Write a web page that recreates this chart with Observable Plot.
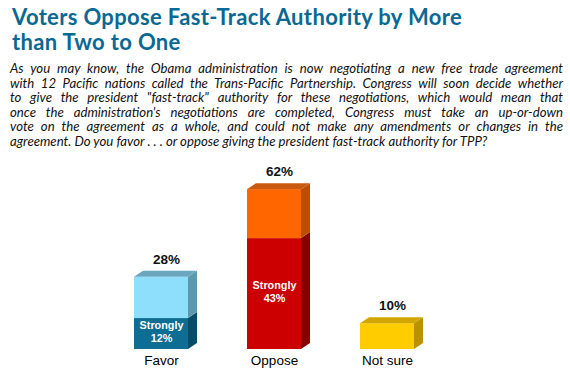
<!DOCTYPE html>
<html>
<head>
<meta charset="utf-8">
<script src="https://cdn.jsdelivr.net/npm/d3@7"></script>
<script src="https://cdn.jsdelivr.net/npm/@observablehq/plot@0.6"></script>
<style>
  html, body { margin: 0; padding: 0; background: #fff; }
  body { width: 570px; height: 374px; position: relative; overflow: hidden; }
  #title { position: absolute; left: 12px; top: 4px; width: 556px; font-family: Lato, "Open Sans", sans-serif; font-weight: 700; font-size: 22px; line-height: 25px; letter-spacing: 0.35px; color: #0a6892; }
  #title div { height: 25px; white-space: nowrap; }
  #sub { position: absolute; left: 10px; top: 61px; width: 553px; font-family: Lato, "Open Sans", sans-serif; font-style: italic; font-size: 13.2px; line-height: 14.6px; color: #111; }
  #sub div { text-align: justify; text-align-last: justify; white-space: nowrap; }
  #sub div.last { text-align-last: left; }
  #chart { position: absolute; left: 0; top: 150px; }
</style>
</head>
<body>
<div id="title"><div>Voters Oppose Fast-Track Authority by More</div><div>than Two to One</div></div>
<div id="sub"></div>
<div id="chart"></div>
<script>
const questionLines = [
  "As you may know, the Obama administration is now negotiating a new free trade agreement",
  "with 12 Pacific nations called the Trans-Pacific Partnership.  Congress will soon decide whether",
  "to give the president \"fast-track\" authority for these negotiations, which would mean that",
  "once the administration's negotiations are completed, Congress must take an up-or-down",
  "vote on the agreement as a whole, and could not make any amendments or changes in the",
  "agreement.  Do you favor . . . or oppose giving the president fast-track authority for TPP?"
];
const categories = ["Favor", "Oppose", "Not sure"];
const totals = [28, 62, 10];
const strongly = [12, 43, 0];

// colours: front, side, top per segment
const palette = {
  "Favor-strong": {front: "#0d6d92", side: "#0a4c68", top: "#0a4c68"},
  "Favor-soft":   {front: "#8edffb", side: "#5f98ae", top: "#6aa6bf"},
  "Oppose-strong":{front: "#cc0000", side: "#870000", top: "#870000"},
  "Oppose-soft":  {front: "#ff6600", side: "#bf4c00", top: "#c95a10"},
  "Not sure-only":{front: "#ffcc00", side: "#b89300", top: "#d1a600"}
};

const sub = document.getElementById("sub");
questionLines.forEach((t, i) => {
  const d = document.createElement("div");
  d.textContent = t;
  if (i === questionLines.length - 1) d.className = "last";
  sub.appendChild(d);
});

const segs = [];
categories.forEach((c, i) => {
  if (strongly[i] > 0) {
    segs.push({cat: c, y1: 0, y2: strongly[i], part: "strong"});
    segs.push({cat: c, y1: strongly[i], y2: totals[i], part: "soft"});
  } else {
    segs.push({cat: c, y1: 0, y2: totals[i], part: "only"});
  }
});
const tops = categories.map((c, i) => ({cat: c, total: totals[i], key: segs.filter(s => s.cat === c).slice(-1)[0]}));
const strongLabels = categories.map((c, i) => ({cat: c, v: strongly[i]})).filter(d => d.v > 0);

const DX = 9, DY = 6;
const depthMark = (index, scales, values, dimensions, context) => {
  const ns = "http://www.w3.org/2000/svg";
  const g = document.createElementNS(ns, "g");
  const x = scales.x, y = scales.y;
  const bw = typeof x.bandwidth === "function" ? x.bandwidth() : 54;
  const poly = (pts, fill) => {
    const p = document.createElementNS(ns, "polygon");
    p.setAttribute("points", pts.map(q => q.join(",")).join(" "));
    p.setAttribute("fill", fill);
    g.appendChild(p);
  };
  for (const s of segs) {
    const col = palette[s.cat + "-" + s.part];
    const x1 = x(s.cat) + bw;
    const ya = y(s.y1), yb = y(s.y2);
    poly([[x1, ya], [x1 + DX, ya - DY], [x1 + DX, yb - DY], [x1, yb]], col.side);
  }
  for (const t of tops) {
    const col = palette[t.cat + "-" + t.key.part];
    const x0 = x(t.cat), x1 = x0 + bw, yt = y(t.total);
    poly([[x0, yt], [x0 + DX, yt - DY], [x1 + DX, yt - DY], [x1, yt]], col.top);
  }
  return g;
};

const chart = Plot.plot({
  width: 570,
  height: 224,
  marginLeft: 73.5,
  marginRight: 96.5,
  marginTop: 18.5,
  marginBottom: 25,
  style: {fontFamily: "Liberation Sans, Arial, sans-serif", background: "transparent"},
  x: {domain: categories, padding: 0.524, label: null, tickSize: 0, tickPadding: 6, fontSize: 13.5},
  y: {domain: [0, 70], axis: null},
  marks: [
    Plot.barY(segs, {x: "cat", y1: "y1", y2: "y2", fill: d => palette[d.cat + "-" + d.part].front, inset: 0}),
    depthMark,
    Plot.text(tops, {x: "cat", y: "total", text: d => d.total + "%", dy: -18, dx: 5, fontSize: 13.5, fontWeight: "bold", fill: "#111"}),
    Plot.text(strongLabels, {x: "cat", y: d => d.v / 2, text: d => "Strongly\n" + d.v + "%", dy: -3, fontSize: 10.8, fontWeight: "bold", fill: "#fff", lineHeight: 1.2})
  ]
});
chart.querySelectorAll("g[aria-label='x-axis tick label'] text, g[aria-label='x-axis'] text").forEach(t => t.style.fontSize = "13.5px");
document.getElementById("chart").appendChild(chart);
</script>
</body>
</html>
